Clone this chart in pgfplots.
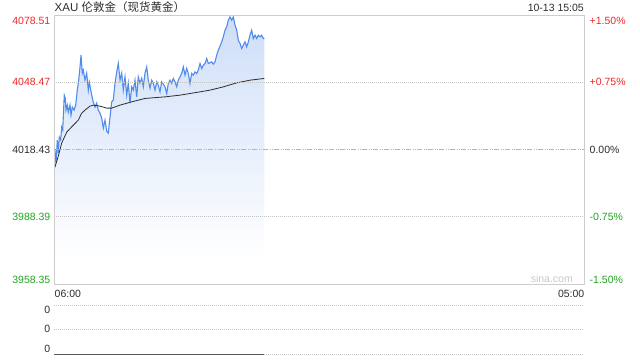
\documentclass[border=0pt]{standalone}
\usepackage{fontspec}
\setmainfont{Liberation Sans}
\newfontfamily\cjk{Noto Sans CJK SC}
\usepackage{pgfplots}
\usepackage{pgfplotstable}
\pgfplotsset{compat=1.18}
\definecolor{cred}{RGB}{238,40,40}
\definecolor{cgreen}{RGB}{30,165,30}
\definecolor{cdark}{RGB}{45,45,45}
\definecolor{cline}{RGB}{80,140,238}
\definecolor{cfill}{RGB}{206,222,248}
\definecolor{cframe}{RGB}{205,205,205}
\definecolor{cgrid}{RGB}{195,195,195}
\definecolor{cmid}{RGB}{180,180,180}
\definecolor{cwm}{RGB}{200,200,200}

\pgfplotstableread{
t p
0 4009.27
2.6 4018.20
5.2 4012.40
8.6 4022.67
11.2 4016.86
13.8 4024.01
17.4 4022.67
20.0 4028.48
22.7 4027.14
24.2 4032.95
26.8 4042.77
29.4 4041.43
31.2 4036.07
34.6 4038.31
37.2 4035.18
41.7 4038.31
44.3 4033.84
47.6 4037.41
52.1 4036.07
56.5 4038.31
60.7 4045.01
64.3 4049.47
67.7 4055.28
70.3 4060.64
73.7 4052.60
76.3 4053.94
80.7 4049.47
85.1 4052.60
89.3 4045.01
91.9 4048.58
98.2 4042.77
102.3 4039.65
106.8 4037.41
111.2 4039.20
115.3 4036.07
119.8 4034.73
124.2 4032.50
128.4 4028.03
132.8 4031.61
137.2 4026.69
141.4 4025.80
145.8 4032.95
150.2 4039.78
154.4 4040.54
158.8 4048.13
163.3 4053.18
167.4 4056.93
171.9 4049.47
176.3 4052.60
180.4 4045.01
184.9 4050.95
189.3 4042.77
193.5 4048.13
197.9 4039.20
202.3 4046.48
206.5 4045.01
210.9 4049.47
215.3 4042.01
219.5 4050.95
223.9 4048.13
228.4 4050.37
232.5 4046.48
236.9 4052.60
241.4 4055.42
245.5 4049.47
250.0 4045.90
254.4 4049.47
258.6 4048.13
263.0 4045.01
267.4 4048.71
271.6 4047.24
276.0 4044.25
280.4 4048.71
284.6 4047.69
289.0 4046.48
293.5 4043.53
297.6 4048.00
302.0 4049.47
306.5 4048.00
310.6 4050.23
315.1 4048.71
319.5 4046.48
323.7 4049.47
328.1 4050.95
332.5 4052.47
336.7 4055.42
341.1 4051.71
345.5 4054.70
349.7 4052.47
354.1 4048.00
358.5 4052.47
362.7 4051.71
367.1 4053.18
371.5 4052.47
375.7 4053.94
380.2 4056.93
384.6 4054.70
388.8 4056.17
393.2 4056.93
397.6 4059.17
401.8 4056.93
406.2 4057.29
410.6 4057.65
414.8 4056.62
419.2 4057.65
423.6 4060.64
427.8 4062.87
432.2 4064.66
436.6 4066.58
440.8 4068.82
445.2 4071.81
449.6 4073.28
453.8 4076.28
458.3 4077.75
462.7 4076.28
466.9 4077.75
471.3 4074.04
475.7 4071.81
479.9 4067.34
484.3 4065.87
488.7 4063.63
492.9 4065.11
497.3 4066.58
501.7 4064.35
505.9 4066.58
510.3 4069.58
514.7 4071.81
518.9 4068.10
523.4 4069.58
527.8 4068.10
532.0 4069.58
536.4 4068.82
540.8 4069.58
545.0 4068.10
547.5 4068.37
}\price

\pgfplotstableread{
t p
0 4009.27
11.2 4015.52
20.0 4021.33
33.1 4026.25
50.3 4029.37
63.3 4031.61
72.1 4034.73
80.7 4036.07
93.7 4037.86
102.3 4038.31
119.8 4037.86
137.2 4036.97
150.2 4036.97
171.9 4038.31
202.3 4039.78
236.9 4041.30
289.0 4042.01
328.1 4042.77
380.2 4044.25
406.2 4045.01
440.8 4046.48
475.7 4048.27
510.3 4049.47
547.5 4050.23
}\avgprice

\begin{document}
\begin{tikzpicture}
\useasboundingbox (0,0) rectangle (640bp,-360bp);
\tikzset{lab/.style={inner sep=0pt, font=\fontsize{10.5bp}{12bp}\selectfont}}

% main price panel
\begin{axis}[
  at={(54bp,-284bp)}, anchor=south west,
  width=530bp, height=268.8bp, scale only axis,
  xmin=0, xmax=1380, ymin=3958.35, ymax=4078.51,
  axis line style={cframe, line width=0.8bp},
  axis on top,
  xtick=\empty,
  ytick={3988.39,4048.47}, yticklabels={,,},
  major tick length=0pt,
  ymajorgrids,
  grid style={cgrid, line width=0.7bp, dash pattern=on 1bp off 1bp},
  extra y ticks={4018.43}, extra y tick labels={,},
  extra y tick style={grid style={cmid, line width=0.7bp, dash pattern=on 5bp off 1.5bp on 1bp off 1.5bp on 1bp off 1bp}},
]
\addplot[top color=cfill, bottom color=white, draw=none] table[x=t, y=p] {\price}
  -- (axis cs:547.5,3969) -- (axis cs:0,3969) -- cycle;
\addplot[cline, line width=1.1bp] table[x=t, y=p] {\price};
\addplot[cdark, line width=0.8bp] table[x=t, y=p] {\avgprice};
\end{axis}

% volume panel
\begin{axis}[
  at={(54bp,-354.3bp)}, anchor=south west,
  width=530bp, height=49.3bp, scale only axis,
  xmin=0, xmax=1380, ymin=0, ymax=2,
  x axis line style={draw=none},
  y axis line style={cframe, line width=0.8bp},
  xtick=\empty,
  ytick={0,1,2}, yticklabels={,,},
  major tick length=0pt,
  ymajorgrids,
  grid style={cgrid, line width=0.7bp, dash pattern=on 1bp off 1bp},
  clip=false,
]
\addplot[cdark!80, line width=0.9bp] coordinates {(0,0) (547.5,0)};
\end{axis}

% titles
\node[lab, anchor=base west, text=cdark, font=\fontsize{11.5bp}{13bp}\selectfont] at (54.5bp,-11.2bp) {XAU {\cjk 伦敦金（现货黄金）}};
\node[lab, anchor=base east, text=cdark] at (584bp,-11.7bp) {10-13 15:05};

% left price labels
\node[lab, anchor=base east, text=cred]   at (50.5bp,-24.2bp) {4078.51};
\node[lab, anchor=base east, text=cred]   at (50.5bp,-85.5bp) {4048.47};
\node[lab, anchor=base east, text=cdark]  at (50.5bp,-153bp) {4018.43};
\node[lab, anchor=base east, text=cgreen] at (50.5bp,-220.5bp) {3988.39};
\node[lab, anchor=base east, text=cgreen] at (50.5bp,-283bp) {3958.35};

% right percent labels
\node[lab, anchor=base west, text=cred]   at (589.5bp,-24.2bp) {+1.50\%};
\node[lab, anchor=base west, text=cred]   at (589.5bp,-85.5bp) {+0.75\%};
\node[lab, anchor=base west, text=cdark]  at (589.5bp,-153bp) {0.00\%};
\node[lab, anchor=base west, text=cgreen] at (589.5bp,-220.5bp) {-0.75\%};
\node[lab, anchor=base west, text=cgreen] at (589.5bp,-283bp) {-1.50\%};

% watermark
\node[lab, anchor=base east, text=cwm] at (573bp,-282.5bp) {sina.com};

% time labels
\node[lab, anchor=base west, text=cdark] at (54.5bp,-297.5bp) {06:00};
\node[lab, anchor=base east, text=cdark] at (584.5bp,-297.5bp) {05:00};

% volume labels
\node[lab, anchor=base east, text=cdark] at (50.5bp,-313.5bp) {0};
\node[lab, anchor=base east, text=cdark] at (50.5bp,-332.5bp) {0};
\node[lab, anchor=base east, text=cdark] at (50.5bp,-352.5bp) {0};
\end{tikzpicture}
\end{document}
